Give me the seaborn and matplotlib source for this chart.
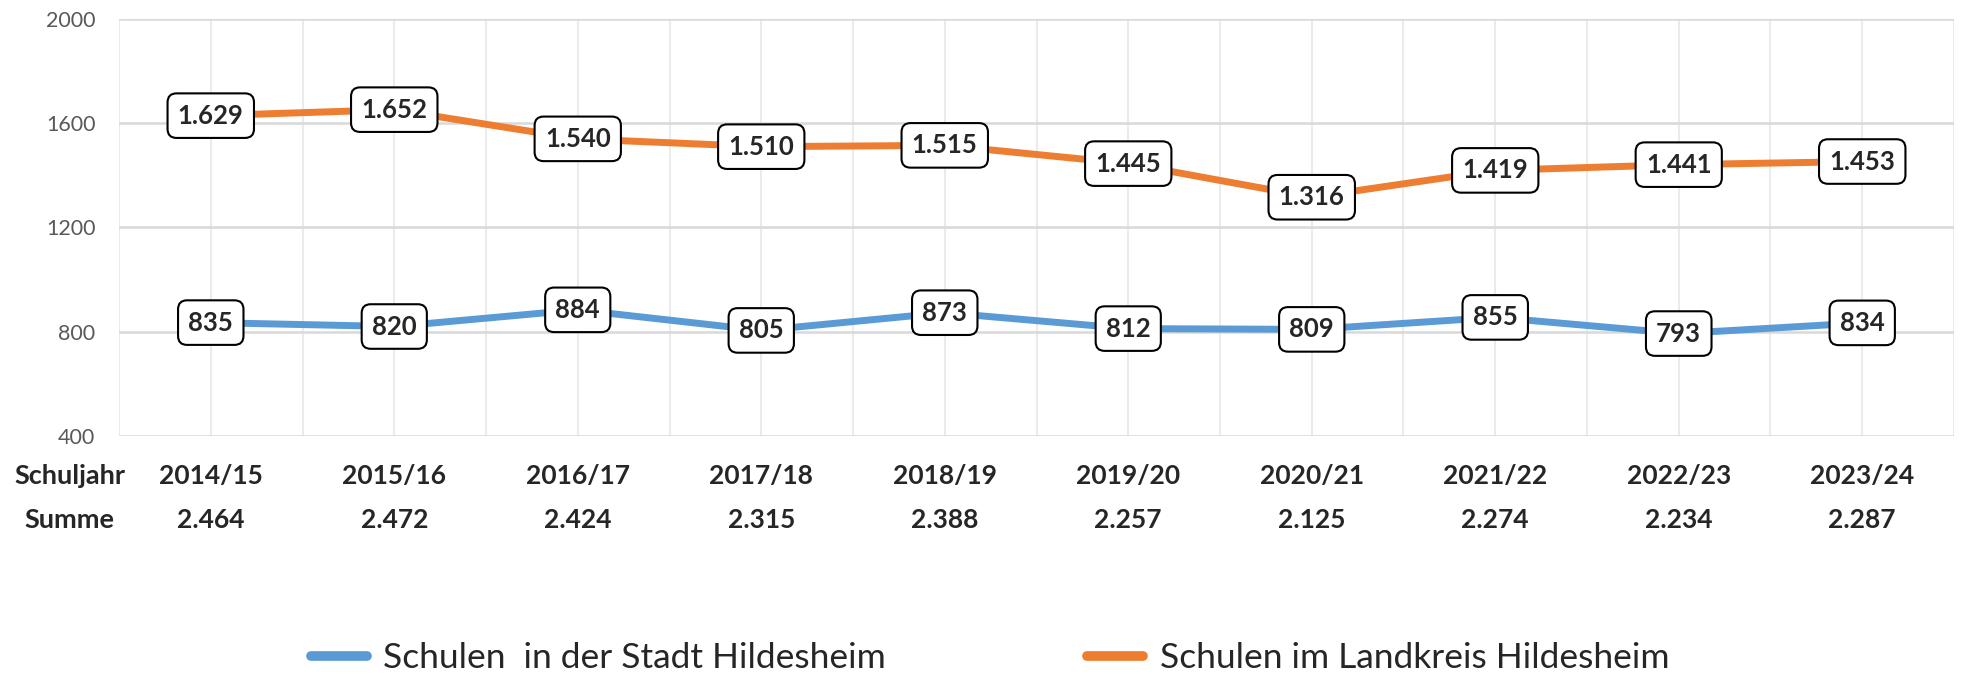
import pandas as pd
import matplotlib
matplotlib.use('Agg')
import matplotlib.pyplot as plt
import matplotlib.transforms as mtransforms
import seaborn as sns

# Daten
schuljahre = ["2014/15", "2015/16", "2016/17", "2017/18", "2018/19",
              "2019/20", "2020/21", "2021/22", "2022/23", "2023/24"]
stadt = [835, 820, 884, 805, 873, 812, 809, 855, 793, 834]
landkreis = [1629, 1652, 1540, 1510, 1515, 1445, 1316, 1419, 1441, 1453]
summe = [2464, 2472, 2424, 2315, 2388, 2257, 2125, 2274, 2234, 2287]

name_stadt = "Schulen  in der Stadt Hildesheim"
name_land = "Schulen im Landkreis Hildesheim"

df = pd.DataFrame({
    "Schuljahr": schuljahre * 2,
    "Wert": stadt + landkreis,
    "Reihe": [name_stadt] * len(stadt) + [name_land] * len(landkreis),
})

sns.set_style("white")
plt.rcParams['font.family'] = ['Lato', 'DejaVu Sans']


def de(v):
    return f"{v:,}".replace(",", ".")


fig = plt.figure(figsize=(19.64, 6.77), dpi=100)
ax = fig.add_axes([0.0606, 0.356, 0.9343, 0.616])

sns.lineplot(data=df, x="Schuljahr", y="Wert", hue="Reihe", sort=False,
             palette={name_stadt: "#5B9BD5", name_land: "#ED7D31"},
             linewidth=5, ax=ax, legend=True)
for ln in ax.lines:
    ln.set_solid_capstyle("round")

ax.set_xlim(-0.5, len(schuljahre) - 0.5)
ax.set_ylim(400, 2000)
ax.set_yticks([400, 800, 1200, 1600, 2000])
ax.set_xticks([])
for i in range(len(schuljahre) * 2 + 1):
    ax.axvline(-0.5 + i * 0.5, color="#EBEBEB", lw=1.5, zorder=0)
for yv in [400, 800, 1200, 1600, 2000]:
    ax.axhline(yv, color="#D9D9D9", lw=1.8, zorder=0)
ax.tick_params(axis="y", length=0, pad=17, labelsize=15.5, labelcolor="#595959")
ax.set_xlabel("")
ax.set_ylabel("")
sns.despine(ax=ax, left=True, bottom=True)

# Datenbeschriftungen
box = dict(boxstyle="round,pad=0.4,rounding_size=0.35", fc="white",
           ec="black", lw=1.5)
for i, (a, b) in enumerate(zip(stadt, landkreis)):
    ax.text(i, a, de(a), ha="center", va="center", fontsize=18.5,
            fontweight="bold", bbox=box, zorder=5)
    ax.text(i, b, de(b), ha="center", va="center", fontsize=18.5,
            fontweight="bold", bbox=box, zorder=5)

# Tabelle unter der Achse
trans = mtransforms.blended_transform_factory(ax.transData, fig.transFigure)
y_jahr = 1 - 476 / 677
y_summe = 1 - 520 / 677
ax.text(-0.77, y_jahr, "Schuljahr", transform=trans, ha="center",
        va="center", fontsize=19.5, fontweight="bold")
ax.text(-0.77, y_summe, "Summe", transform=trans, ha="center",
        va="center", fontsize=19.5, fontweight="bold")
for i, (j, s) in enumerate(zip(schuljahre, summe)):
    ax.text(i, y_jahr, j, transform=trans, ha="center", va="center",
            fontsize=19, fontweight="bold")
    ax.text(i, y_summe, de(s), transform=trans, ha="center", va="center",
            fontsize=19, fontweight="bold")

# Legende
handles, labels = ax.get_legend_handles_labels()
ax.get_legend().remove()
leg = fig.legend(handles, labels, loc="center", bbox_to_anchor=(0.504, 1 - 658 / 677),
                 ncol=2, frameon=False, fontsize=25.5, handlelength=1.58,
                 handletextpad=0.46, columnspacing=5.7)
for h in leg.get_lines():
    h.set_linewidth(7)
    h.set_solid_capstyle("round")

fig.savefig("out.png", dpi=100)
